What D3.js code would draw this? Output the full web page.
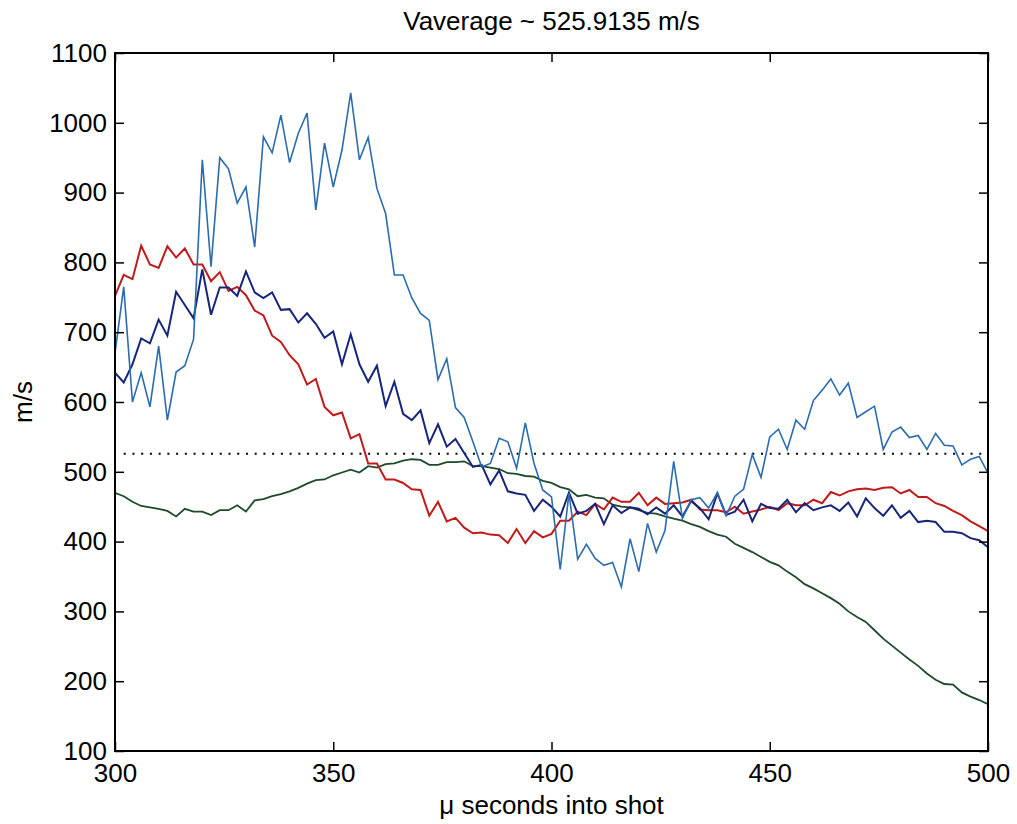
<!DOCTYPE html>
<html>
<head>
<meta charset="utf-8">
<script src="https://cdn.jsdelivr.net/npm/d3@7/dist/d3.min.js"></script>
<style>
  html, body { margin: 0; padding: 0; background: #ffffff; }
  svg { display: block; font-family: "Liberation Sans", Arial, Helvetica, sans-serif; }
</style>
</head>
<body>
<svg id="chart" width="1017" height="824"></svg>
<script>
// ---- data ----
const timeStart = 300, timeEnd = 500, timeStep = 2;
const times = d3.range(timeStart, timeEnd + 1, timeStep);

const xTicks = [300, 350, 400, 450, 500];
const yTicks = [100, 200, 300, 400, 500, 600, 700, 800, 900, 1000, 1100];

const vAverage = 525.9135;
const titleText = "Vaverage ~ 525.9135 m/s";
const xLabel = "\u03bc seconds into shot";
const yLabel = "m/s";

const lightBlue = [
  670, 765, 600, 642, 593, 680, 574, 643, 652, 690,
  947, 794, 950, 934, 885, 908, 822, 980, 957, 1011,
  943, 985, 1014, 875, 971, 908, 961, 1043, 947, 979,
  906, 870, 782, 782, 749, 727, 717, 632, 662, 592,
  578, 543, 507, 512, 548, 543, 505, 570, 512, 474,
  464, 360, 469, 375, 396, 376, 366, 370, 335, 404,
  357, 426, 385, 416, 515, 433, 460, 463, 448, 470,
  437, 465, 475, 525, 492, 550, 561, 532, 574, 561,
  602, 617, 633, 610, 627, 578, 586, 594, 532, 557,
  564, 549, 552, 532, 555, 538, 537, 510, 518, 522,
  498
];

const navy = [
  642, 628, 654, 691, 684, 718, 695, 758, 739, 720,
  790, 725, 764, 764, 752, 787, 757, 749, 757, 732,
  733, 714, 727, 712, 692, 701, 654, 697, 654, 629,
  652, 594, 629, 583, 574, 588, 541, 568, 536, 547,
  527, 507, 510, 482, 502, 472, 469, 467, 444, 460,
  450, 436, 470, 440, 444, 454, 425, 452, 441, 449,
  447, 439, 449, 440, 452, 436, 458, 448, 432, 469,
  438, 443, 460, 429, 454, 448, 447, 460, 442, 455,
  445, 449, 452, 444, 456, 436, 462, 448, 437, 452,
  434, 444, 428, 430, 428, 414, 414, 412, 405, 402,
  392
];

const red = [
  752, 782, 776, 824, 797, 792, 823, 807, 820, 797,
  797, 773, 786, 759, 765, 753, 731, 724, 695, 686,
  667, 654, 625, 633, 593, 581, 585, 548, 554, 512,
  512, 489, 489, 484, 475, 474, 437, 457, 429, 434,
  420, 412, 413, 410, 409, 398, 418, 398, 415, 406,
  411, 430, 430, 443, 438, 454, 446, 463, 457, 457,
  470, 452, 463, 454, 455, 456, 460, 446, 445, 445,
  442, 450, 440, 443, 446, 450, 445, 455, 452, 452,
  460, 455, 471, 466, 472, 475, 476, 474, 477, 478,
  469, 474, 464, 464, 455, 451, 444, 438, 429, 422,
  415
];

const green = [
  470, 465, 457, 451, 449, 447, 444, 436, 447, 443,
  443, 438, 445, 445, 452, 443, 459, 461, 465, 468,
  472, 477, 483, 488, 489, 495, 499, 503, 499, 508,
  506, 511, 512, 516, 518, 517, 510, 510, 514, 514,
  515, 508, 508, 506, 504, 498, 497, 494, 493, 487,
  484, 478, 475, 465, 467, 463, 462, 453, 450, 449,
  445, 441, 440, 436, 433, 430, 425, 421, 415, 410,
  407, 397, 391, 385, 378, 371, 366, 357, 349, 339,
  333, 326, 319, 311, 300, 292, 285, 273, 261, 251,
  241, 231, 222, 211, 202, 196, 195, 184, 178, 173,
  167
];

// ---- layout ----
const W = 1017, H = 824;
const margin = { top: 53, right: 29, bottom: 73, left: 115 };
const iw = W - margin.left - margin.right;
const ih = H - margin.top - margin.bottom;

const svg = d3.select("#chart");
svg.append("rect").attr("width", W).attr("height", H).attr("fill", "#ffffff");

const g = svg.append("g").attr("transform", `translate(${margin.left},${margin.top})`);

const x = d3.scaleLinear().domain([300, 500]).range([0, iw]);
const y = d3.scaleLinear().domain([100, 1100]).range([ih, 0]);

const fontSize = 26;

// series
const series = [
  { values: green, color: "#1e4a2a", width: 1.8 },
  { values: red, color: "#c01a1a", width: 2.0 },
  { values: navy, color: "#16257a", width: 2.0 },
  { values: lightBlue, color: "#2a6cae", width: 1.6 }
];

const line = d3.line().x(d => x(d[0])).y(d => y(d[1]));

g.append("clipPath").attr("id", "clip")
  .append("rect").attr("width", iw).attr("height", ih);

const plot = g.append("g").attr("clip-path", "url(#clip)");

// dotted average line
plot.append("line")
  .attr("x1", x(302)).attr("x2", x(500))
  .attr("y1", y(vAverage)).attr("y2", y(vAverage))
  .attr("stroke", "#000")
  .attr("stroke-width", 2)
  .attr("stroke-dasharray", "2,6.73")
  .attr("stroke-linecap", "butt");

series.forEach(s => {
  plot.append("path")
    .datum(times.map((t, i) => [t, s.values[i]]))
    .attr("fill", "none")
    .attr("stroke", s.color)
    .attr("stroke-width", s.width)
    .attr("stroke-linejoin", "miter")
    .attr("d", line);
});

// axes (inward ticks, box)
const tick = 9;
const axL = g.append("g")
  .call(d3.axisLeft(y).tickValues(yTicks).tickSize(-tick).tickPadding(8).tickFormat(d3.format("d")));
const axB = g.append("g").attr("transform", `translate(0,${ih})`)
  .call(d3.axisBottom(x).tickValues(xTicks).tickSize(-tick).tickPadding(13).tickFormat(d3.format("d")));
const axT = g.append("g")
  .call(d3.axisTop(x).tickValues(xTicks).tickSize(-tick).tickFormat(""));
const axR = g.append("g").attr("transform", `translate(${iw},0)`)
  .call(d3.axisRight(y).tickValues(yTicks).tickSize(-tick).tickFormat(""));

[axL, axB, axT, axR].forEach(a => {
  a.select(".domain").remove();
  a.selectAll(".tick line").attr("stroke", "#000").attr("stroke-width", 1.5);
  a.selectAll("text")
    .attr("fill", "#000")
    .style("font-size", fontSize + "px")
    .style("font-family", "'Liberation Sans', Arial, sans-serif");
});

g.append("rect")
  .attr("x", 0).attr("y", 0).attr("width", iw).attr("height", ih)
  .attr("fill", "none").attr("stroke", "#000").attr("stroke-width", 2);

// title and labels
svg.append("text")
  .attr("x", margin.left + iw / 2)
  .attr("y", 30)
  .attr("text-anchor", "middle")
  .style("font-size", fontSize + "px")
  .attr("fill", "#000")
  .text(titleText);

svg.append("text")
  .attr("x", margin.left + iw / 2)
  .attr("y", 814)
  .attr("text-anchor", "middle")
  .style("font-size", fontSize + "px")
  .attr("fill", "#000")
  .text(xLabel);

svg.append("text")
  .attr("transform", `translate(32,${margin.top + ih / 2}) rotate(-90)`)
  .attr("text-anchor", "middle")
  .style("font-size", fontSize + "px")
  .attr("fill", "#000")
  .text(yLabel);
</script>
</body>
</html>
